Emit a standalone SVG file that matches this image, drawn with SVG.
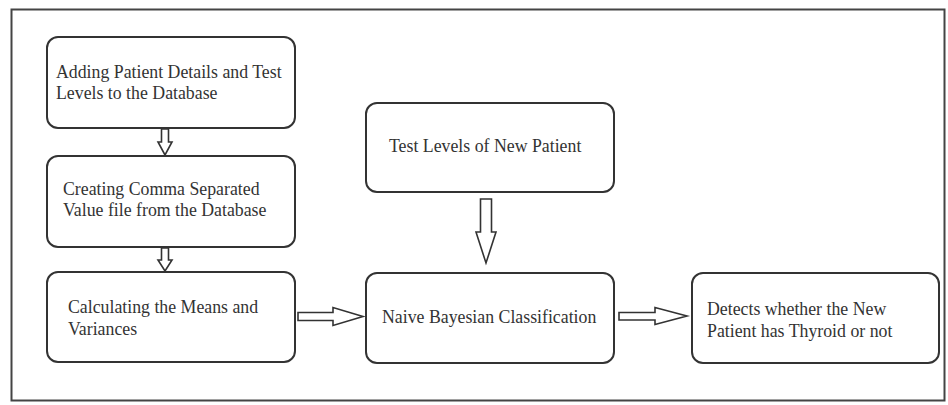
<svg xmlns="http://www.w3.org/2000/svg" width="948" height="405" viewBox="0 0 948 405">
<style>
.box{fill:#fff;stroke:#333;stroke-width:2}
.t{font-family:"Liberation Serif","Times New Roman",serif;font-size:17.8px;fill:#333}
.arr{fill:#fff;stroke:#333;stroke-width:1.6;stroke-linejoin:miter}
</style>
<rect x="0" y="0" width="948" height="405" fill="#fff"/>
<rect x="11.5" y="9.5" width="933" height="391" fill="none" stroke="#444" stroke-width="2"/>
<g id="n1"><rect class="box" x="47" y="37" width="248" height="91" rx="11"/>
<text class="t" x="56" y="78">Adding Patient Details and Test</text>
<text class="t" x="56" y="99">Levels to the Database</text></g>
<g id="n2"><rect class="box" x="47" y="156" width="248" height="91" rx="11"/>
<text class="t" x="63" y="195">Creating Comma Separated</text>
<text class="t" x="63" y="216">Value file from the Database</text></g>
<g id="n3"><rect class="box" x="47" y="272" width="248" height="90" rx="11"/>
<text class="t" x="68" y="313">Calculating the Means and</text>
<text class="t" x="68" y="335">Variances</text></g>
<g id="n4"><rect class="box" x="366" y="103" width="248" height="89" rx="11"/>
<text class="t" x="389" y="152">Test Levels of New Patient</text></g>
<g id="n5"><rect class="box" x="366" y="273" width="248" height="90" rx="11"/>
<text class="t" x="382" y="323">Naive Bayesian Classification</text></g>
<g id="n6"><rect class="box" x="692" y="273" width="247" height="90" rx="11"/>
<text class="t" x="707" y="315">Detects whether the New</text>
<text class="t" x="707" y="337">Patient has Thyroid or not</text></g>
<g id="connectors">
<path class="arr" d="M161.5,129 H168.5 V142 H172 L165,155 L158,142 H161.5 Z"/>
<path class="arr" d="M161.5,248 H168.5 V260 H172 L165,271 L158,260 H161.5 Z"/>
<path class="arr" d="M480.5,199 H491.5 V232 H496 L486,263 L476,232 H480.5 Z"/>
<path class="arr" d="M298,312.5 H333 V307.5 L363,316.5 L333,325.5 V320.5 H298 Z"/>
<path class="arr" d="M619,312.5 H655 V307.5 L687,316 L655,324.5 V320 H619 Z"/>
</g>
</svg>
